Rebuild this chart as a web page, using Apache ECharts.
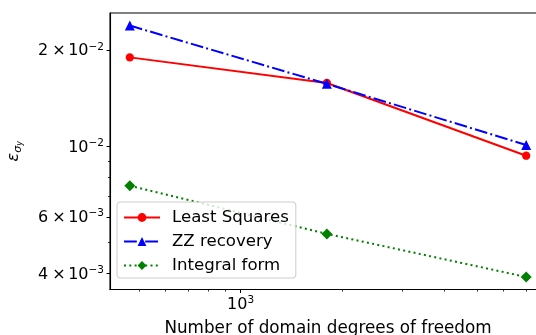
<!DOCTYPE html>
<html>
<head>
<meta charset="utf-8">
<script src="https://cdn.jsdelivr.net/npm/echarts@6/dist/echarts.min.js"></script>
<style>
  html, body { margin: 0; padding: 0; background: #fff; }
  #chart { width: 536px; height: 335px; }
</style>
</head>
<body>
<div id="chart"></div>
<script>
// Degrees of freedom for each refinement level
const dofs = [470, 1800, 7000];

// Error of the recovered stress component for each method
const leastSquares = [0.0190, 0.0158, 0.00935];
const zzRecovery   = [0.0239, 0.0157, 0.0101];
const integralForm = [0.00753, 0.00532, 0.0039];

const seriesNames = ['Least Squares', 'ZZ recovery', 'Integral form'];

// Tick positions (data units)
const xMajorTicks = [1000];
const xMinorTicks = [500, 600, 700, 800, 900, 2000, 3000, 4000, 5000, 6000, 7000];
const yMajorTicks = [0.004, 0.006, 0.01, 0.02];
const yMinorTicks = [0.005, 0.007, 0.008, 0.009];
// Label text: [mantissa or null, base, exponent]
const yTickLabels = {
  0.004: ['4', '10', '−3'],
  0.006: ['6', '10', '−3'],
  0.01: [null, '10', '−2'],
  0.02: ['2', '10', '−2']
};
const xTickLabels = { 1000: [null, '10', '3'] };

const FONT = 'DejaVu Sans';

// 5% padding in log space on both ends of the data range
function logLimits(arrays) {
  const vals = [].concat(...arrays).map(Math.log10);
  const lo = Math.min(...vals), hi = Math.max(...vals);
  const pad = (hi - lo) * 0.05;
  return [Math.pow(10, lo - pad), Math.pow(10, hi + pad)];
}
const [xMin, xMax] = logLimits([dofs]);
const [yMin, yMax] = logLimits([leastSquares, zzRecovery, integralForm]);

function findLabel(table, v) {
  for (const k in table) {
    if (Math.abs(Math.log10(+k) - Math.log10(v)) < 1e-6) return table[k];
  }
  return null;
}
// Scientific-notation label as rich text: m × 10^e
function sciLabel(table) {
  return v => {
    const l = findLabel(table, v);
    if (!l) return '';
    let s = '';
    if (l[0]) s += '{b|' + l[0] + '}{x|×}';
    return s + '{b|' + l[1] + '}{s|' + l[2] + '}';
  };
}
const labelRich = {
  b: { fontFamily: FONT, fontSize: 16, color: '#000', lineHeight: 18, padding: [2, 0, 0, 0] },
  x: { fontFamily: FONT, fontSize: 16, color: '#000', lineHeight: 18, padding: [2, 2.5, 0, 4] },
  s: { fontFamily: FONT, fontSize: 10.5, color: '#000', lineHeight: 14, verticalAlign: 'top' }
};

function pairs(ys) { return dofs.map((x, i) => [x, ys[i]]); }

const chart = echarts.init(document.getElementById('chart'), null, { renderer: 'canvas' });

const black = '#000';
chart.setOption({
  animation: false,
  backgroundColor: '#fff',
  grid: {
    left: 110, top: 13, width: 436, height: 276.5,
    outerBoundsMode: 'none',
    containLabel: false,
    show: true, borderColor: black, borderWidth: 1.1, backgroundColor: 'transparent'
  },
  legend: {
    orient: 'vertical',
    left: 117, top: 202,
    data: seriesNames,
    itemWidth: 36, itemHeight: 11, itemGap: 7,
    padding: [7, 7, 4, 6],
    backgroundColor: 'rgba(255,255,255,0.8)',
    borderColor: '#cccccc', borderWidth: 1, borderRadius: 3,
    textStyle: { fontFamily: FONT, fontSize: 16.6, color: '#000', padding: [0, 0, 0, 7] },
    z: 10
  },
  xAxis: [
    {
      type: 'log', logBase: 10, min: xMin, max: xMax,
      position: 'bottom',
      name: 'Number of domain degrees of freedom',
      nameLocation: 'middle', nameGap: 31,
      nameTextStyle: { fontFamily: FONT, fontSize: 16.8, color: '#000' },
      axisLine: { show: true, lineStyle: { color: black, width: 1.1 } },
      axisTick: { show: true, customValues: xMajorTicks, length: 3.5, lineStyle: { color: black, width: 1 } },
      axisLabel: {
        customValues: xMajorTicks, margin: 5.3, color: '#000',
        formatter: sciLabel(xTickLabels),
        rich: labelRich
      },
      splitLine: { show: false }, minorTick: { show: false }
    },
    {
      type: 'log', logBase: 10, min: xMin, max: xMax,
      position: 'bottom',
      axisLine: { show: false },
      axisTick: { show: true, customValues: xMinorTicks, length: 2, lineStyle: { color: black, width: 0.8 } },
      axisLabel: { show: false },
      splitLine: { show: false }
    }
  ],
  yAxis: [
    {
      type: 'log', logBase: 10, min: yMin, max: yMax,
      position: 'left',
      name: '{e|ε}{s|σ}{t|y}',
      nameLocation: 'middle', nameGap: 86, nameRotate: 90,
      nameTextStyle: {
        rich: {
          e: { fontFamily: FONT, fontStyle: 'italic', fontSize: 16, color: '#000', lineHeight: 20 },
          s: { fontFamily: FONT, fontStyle: 'italic', fontSize: 11, color: '#000', lineHeight: 12, verticalAlign: 'bottom' },
          t: { fontFamily: FONT, fontStyle: 'italic', fontSize: 8, color: '#000', lineHeight: 8, verticalAlign: 'bottom' }
        }
      },
      axisLine: { show: true, lineStyle: { color: black, width: 1.1 } },
      axisTick: { show: true, customValues: yMajorTicks, length: 3.5, lineStyle: { color: black, width: 1 } },
      axisLabel: {
        customValues: yMajorTicks, margin: 6, color: '#000',
        formatter: sciLabel(yTickLabels),
        rich: labelRich
      },
      splitLine: { show: false }, minorTick: { show: false }
    },
    {
      type: 'log', logBase: 10, min: yMin, max: yMax,
      position: 'left',
      axisLine: { show: false },
      axisTick: { show: true, customValues: yMinorTicks, length: 2, lineStyle: { color: black, width: 0.8 } },
      axisLabel: { show: false },
      splitLine: { show: false }
    }
  ],
  series: [
    {
      name: seriesNames[0], type: 'line', data: pairs(leastSquares),
      xAxisIndex: 0, yAxisIndex: 0,
      color: '#ff0000',
      symbol: 'circle', symbolSize: 8.3,
      lineStyle: { color: '#ff0000', width: 2, type: 'solid' },
      itemStyle: { color: '#ff0000' }, z: 3
    },
    {
      name: seriesNames[1], type: 'line', data: pairs(zzRecovery),
      xAxisIndex: 0, yAxisIndex: 0,
      color: '#0000ff',
      symbol: 'triangle', symbolSize: 10,
      lineStyle: { color: '#0000ff', width: 2, type: [12.8, 3.2, 2, 3.2] },
      itemStyle: { color: '#0000ff' }, z: 4
    },
    {
      name: seriesNames[2], type: 'line', data: pairs(integralForm),
      xAxisIndex: 0, yAxisIndex: 0,
      color: '#008000',
      symbol: 'diamond', symbolSize: 11,
      lineStyle: { color: '#008000', width: 2, type: [2, 3.3] },
      itemStyle: { color: '#008000' }, z: 3
    }
  ]
});
</script>
</body>
</html>
